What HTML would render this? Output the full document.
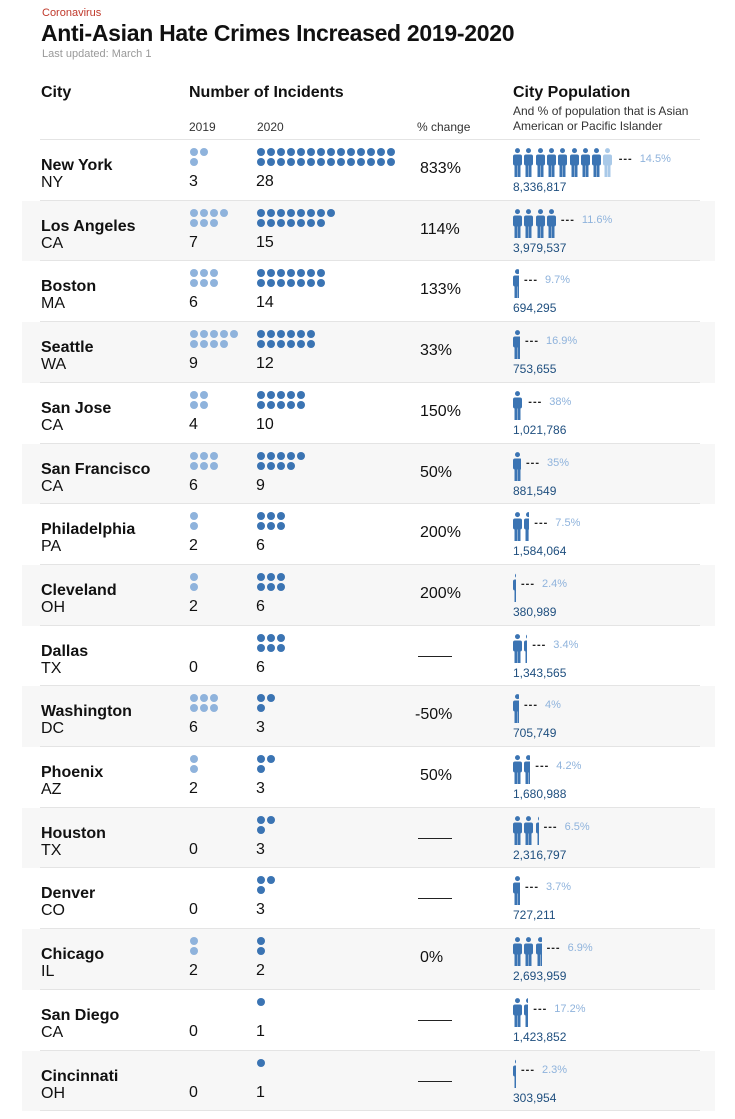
<!DOCTYPE html>
<html><head><meta charset="utf-8"><style>
body{margin:0;width:735px;height:1119px;background:#fff;font-family:"Liberation Sans",sans-serif;position:relative;overflow:hidden;color:#111}
.a{position:absolute;white-space:nowrap}
</style></head><body>
<div class="a" style="left:42px;top:7px;font-size:11px;color:#c0392b">Coronavirus</div>
<div class="a" style="left:41px;top:20px;font-size:23px;font-weight:bold;letter-spacing:-0.3px">Anti-Asian Hate Crimes Increased 2019-2020</div>
<div class="a" style="left:42px;top:48px;font-size:11px;color:#999">Last updated: March 1</div>
<div class="a" style="left:41px;top:84px;font-size:16px;font-weight:bold">City</div>
<div class="a" style="left:189px;top:84px;font-size:16px;font-weight:bold">Number of Incidents</div>
<div class="a" style="left:513px;top:84px;font-size:16px;font-weight:bold">City Population</div>
<div class="a" style="left:513px;top:104px;font-size:12px;color:#333;line-height:15px">And % of population that is Asian<br>American or Pacific Islander</div>
<div class="a" style="left:189px;top:120px;font-size:12px;color:#333">2019</div>
<div class="a" style="left:257px;top:120px;font-size:12px;color:#333">2020</div>
<div class="a" style="left:417px;top:120px;font-size:12px;color:#333">% change</div>
<div class="a" style="left:40px;top:139px;width:660px;height:1px;background:#e4e4e4"></div>
<div id="rows"></div>
<script>
var d=[["New York","NY",3,28,"833%",8336817,"14.5%"],["Los Angeles","CA",7,15,"114%",3979537,"11.6%"],["Boston","MA",6,14,"133%",694295,"9.7%"],["Seattle","WA",9,12,"33%",753655,"16.9%"],["San Jose","CA",4,10,"150%",1021786,"38%"],["San Francisco","CA",6,9,"50%",881549,"35%"],["Philadelphia","PA",2,6,"200%",1584064,"7.5%"],["Cleveland","OH",2,6,"200%",380989,"2.4%"],["Dallas","TX",0,6,"",1343565,"3.4%"],["Washington","DC",6,3,"-50%",705749,"4%"],["Phoenix","AZ",2,3,"50%",1680988,"4.2%"],["Houston","TX",0,3,"",2316797,"6.5%"],["Denver","CO",0,3,"",727211,"3.7%"],["Chicago","IL",2,2,"0%",2693959,"6.9%"],["San Diego","CA",0,1,"",1423852,"17.2%"],["Cincinnati","OH",0,1,"",303954,"2.3%"]];
var h="";var RH=60.7;
function dots(n,x,T,c){var s="",top=Math.ceil(n/2);for(var i=0;i<n;i++){var r=i<top?0:1,k=i<top?i:i-top;s+='<div class="a" style="left:'+(x+k*10)+'px;top:'+(T+8+r*10)+'px;width:8px;height:8px;border-radius:50%;background:'+c+'"></div>';}return s;}
function person(x,y,w,c){return '<svg class="a" style="left:'+x+'px;top:'+y+'px" width="'+w+'" height="30" viewBox="0 0 '+w+' 30"><circle cx="4.5" cy="2.6" r="2.5" fill="'+c+'"/><rect x="0" y="6.5" width="9" height="11" rx="2" fill="'+c+'"/><rect x="1.5" y="15" width="2.8" height="14" fill="'+c+'"/><rect x="4.7" y="15" width="2.8" height="14" fill="'+c+'"/></svg>';}
d.forEach(function(r,i){var T=140+i*RH;
if(i%2==1)h+='<div class="a" style="left:22px;top:'+T+'px;width:693px;height:'+RH+'px;background:#f7f7f7"></div>';
h+='<div class="a" style="left:40px;top:'+(T+RH-1)+'px;width:660px;height:1px;background:#e4e4e4"></div>';
h+='<div class="a" style="left:41px;top:'+(T+17)+'px;font-size:16px;font-weight:bold">'+r[0]+'</div>';
h+='<div class="a" style="left:41px;top:'+(T+34)+'px;font-size:16px">'+r[1]+'</div>';
h+=dots(r[2],190,T,"#8fb3dc")+dots(r[3],257,T,"#3b74b3");
h+='<div class="a" style="left:189px;top:'+(T+33)+'px;font-size:16px">'+r[2]+'</div>';
h+='<div class="a" style="left:256px;top:'+(T+33)+'px;font-size:16px">'+r[3]+'</div>';
if(r[4])h+='<div class="a" style="left:'+(r[4]=="-50%"?415:420)+'px;top:'+(T+20)+'px;font-size:16px">'+r[4]+'</div>';
else h+='<div class="a" style="left:418px;top:'+(T+30)+'px;width:34px;height:1px;background:#222"></div>';
var p=r[5]/1e6,n=Math.floor(p),f=p-n,x=513;
for(var k=0;k<n;k++){h+=person(x,T+8,9,"#3b74b3");x+=11.3;}
if(i==0){h+=person(x,T+8,9,"#a9c9e8");x+=11.3;}
else if(f>0.05){var w=Math.max(2,Math.round(f*9));h+=person(x,T+8,w,"#3b74b3");x+=w+1;}
h+='<div class="a" style="left:'+(x+4)+'px;top:'+(T+13)+'px;font-size:11px;color:#222;font-weight:bold;letter-spacing:1px">---</div>';
h+='<div class="a" style="left:'+(x+25)+'px;top:'+(T+13)+'px;font-size:11px;color:#8fb3dc">'+r[6]+'</div>';
h+='<div class="a" style="left:513px;top:'+(T+40)+'px;font-size:12px;color:#1f4f7f">'+r[5].toLocaleString("en-US")+'</div>';
});
document.getElementById("rows").innerHTML=h;
</script>
</body></html>
